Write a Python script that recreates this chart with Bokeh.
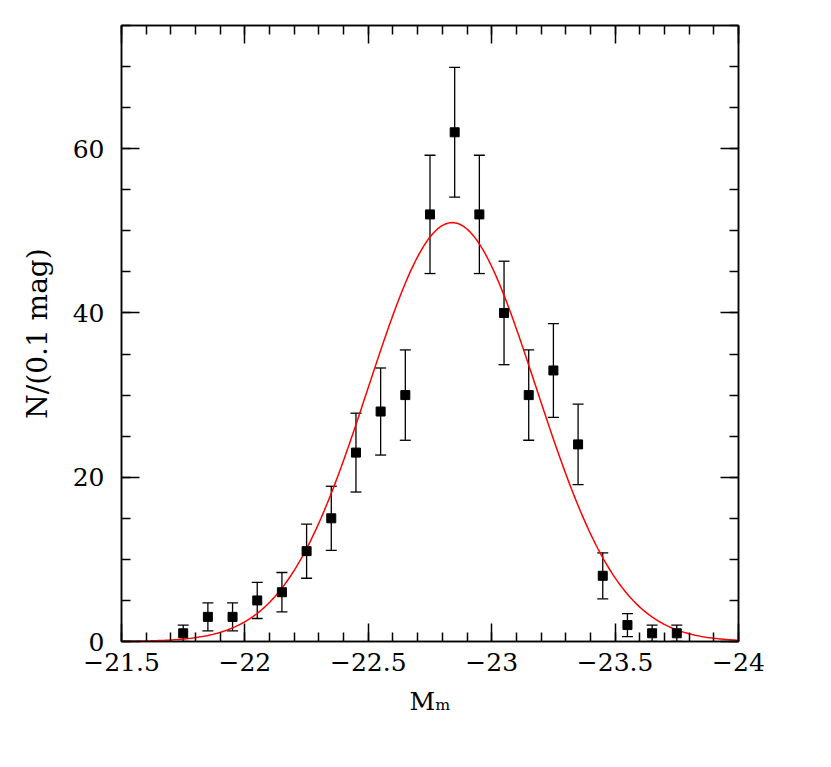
import numpy as np
from bokeh.plotting import figure
from bokeh.models import (Range1d, LinearAxis, SingleIntervalTicker, CustomJSTickFormatter,
                          ColumnDataSource, Whisker, TeeHead)
from bokeh.embed import file_html
from bokeh.resources import INLINE

# ---- data ----
mag = [-21.75, -21.85, -21.95, -22.05, -22.15, -22.25, -22.35, -22.45, -22.55, -22.65,
       -22.75, -22.85, -22.95, -23.05, -23.15, -23.25, -23.35, -23.45, -23.55, -23.65, -23.75]
counts = [1, 3, 3, 5, 6, 11, 15, 23, 28, 30, 52, 62, 52, 40, 30, 33, 24, 8, 2, 1, 1]
errors = [1.0, 1.7, 1.7, 2.2, 2.4, 3.3, 3.9, 4.8, 5.3, 5.5, 7.2, 7.9, 7.2, 6.3, 5.5,
          5.7, 4.9, 2.8, 1.4, 1.0, 1.0]

# Gaussian fit parameters
fit_mean = -22.84
fit_sigma = 0.34
fit_amp = 51.0

FONT = "DejaVu Serif"
TICK_FS = "25px"

p = figure(width=800, height=745, output_backend="svg", toolbar_location=None,
           x_range=Range1d(-21.5, -24), y_range=Range1d(0, 75),
           min_border_left=121, min_border_right=62, min_border_top=25, min_border_bottom=104)
p.background_fill_color = "white"
p.border_fill_color = "white"
p.outline_line_color = "black"
p.outline_line_width = 1.5
p.grid.visible = False

fmt = CustomJSTickFormatter(code="return String(tick).replace('-', '\u2212');")

def style(ax, labels=True):
    ax.major_tick_in = 18
    ax.major_tick_out = 0
    ax.minor_tick_in = 9
    ax.minor_tick_out = 0
    ax.axis_line_color = "black"
    ax.axis_line_width = 1.5
    ax.major_tick_line_width = 1.5
    ax.minor_tick_line_width = 1.5
    ax.major_tick_line_color = "black"
    ax.minor_tick_line_color = "black"
    ax.major_label_text_font = FONT
    ax.major_label_text_font_size = TICK_FS
    ax.major_label_text_color = "black"
    ax.axis_label_text_font = FONT
    ax.axis_label_text_font_style = "normal"
    ax.axis_label_text_color = "black"
    if not labels:
        ax.major_label_text_font_size = "0px"
        ax.major_label_text_alpha = 0

xa = p.xaxis[0]
xa.ticker = SingleIntervalTicker(interval=0.5, num_minor_ticks=5)
xa.formatter = fmt
xa.major_label_standoff = 11
xa.axis_label = "M\u2098"
xa.axis_label_standoff = 13
style(xa)
xa.axis_label_text_font_size = "25px"

ya = p.yaxis[0]
ya.ticker = SingleIntervalTicker(interval=20, num_minor_ticks=4)
ya.major_label_standoff = 17
ya.axis_label = "N/(0.1 mag)"
ya.axis_label_standoff = 16
style(ya)
ya.axis_label_text_font_size = "28px"

top = LinearAxis(ticker=SingleIntervalTicker(interval=0.5, num_minor_ticks=5))
style(top, labels=False)
p.add_layout(top, "above")
right = LinearAxis(ticker=SingleIntervalTicker(interval=20, num_minor_ticks=4))
style(right, labels=False)
p.add_layout(right, "right")

# Gaussian curve
xc = np.linspace(-21.5, -24, 400)
yc = fit_amp * np.exp(-(xc - fit_mean) ** 2 / (2 * fit_sigma ** 2))
p.line(xc, yc, line_color="red", line_width=1.5)

# data with error bars
src = ColumnDataSource(dict(x=mag, y=counts,
                            lo=[c - e for c, e in zip(counts, errors)],
                            hi=[c + e for c, e in zip(counts, errors)]))
w = Whisker(source=src, base="x", lower="lo", upper="hi", line_color="black", line_width=1.3,
            upper_head=TeeHead(size=11, line_color="black", line_width=1.3),
            lower_head=TeeHead(size=11, line_color="black", line_width=1.3))
p.add_layout(w)
p.scatter("x", "y", source=src, marker="square", size=9, fill_color="black", line_color="black")

open("out.html", "w").write(file_html(p, INLINE))
